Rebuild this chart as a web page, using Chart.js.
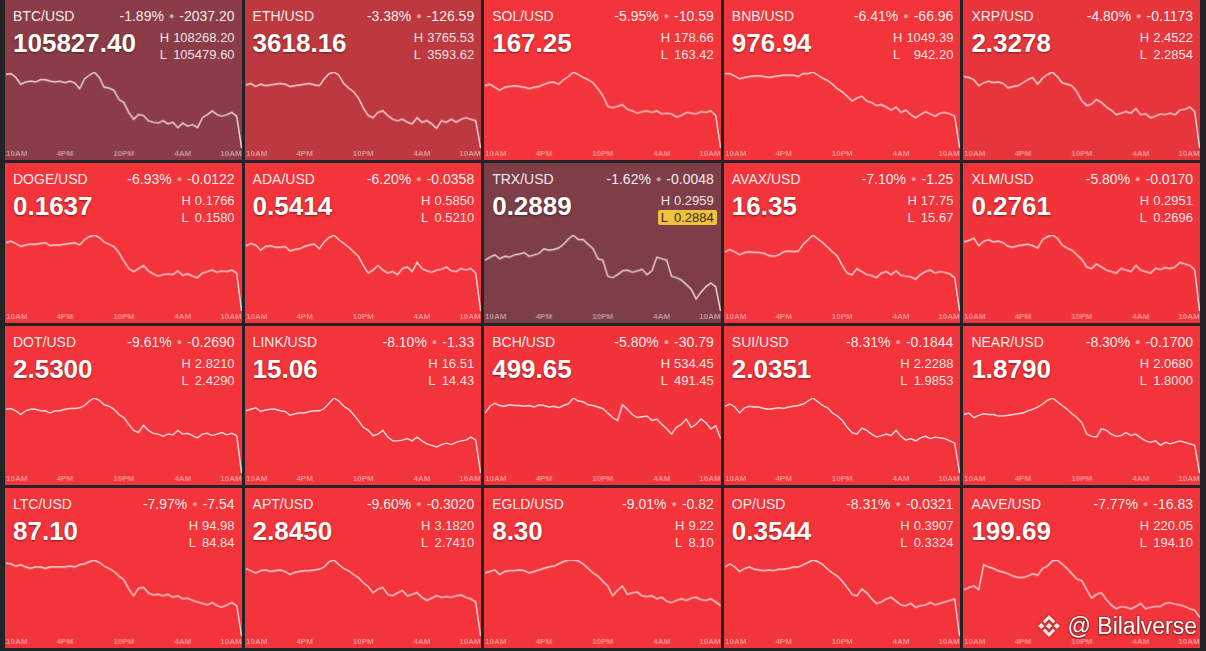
<!DOCTYPE html>
<html>
<head>
<meta charset="utf-8">
<script src="https://cdn.jsdelivr.net/npm/chart.js@4.4.1/dist/chart.umd.min.js"></script>
<style>
  html, body { margin: 0; padding: 0; }
  body {
    width: 1206px; height: 651px; overflow: hidden; position: relative;
    background: #222327;
    font-family: 'Liberation Sans', Arial, sans-serif;
  }
  #grid {
    position: absolute; left: 5px; top: 0; width: 1195px; height: 648px;
    display: grid; grid-template-columns: repeat(5, 1fr); grid-template-rows: repeat(4, 1fr);
    gap: 3px;
  }
  .tile { position: relative; overflow: hidden; color: #fff; }
  .sym { position: absolute; left: 8px; top: 7px; font-size: 14px; line-height: 18px; color: rgba(255,255,255,0.93); }
  .chg { position: absolute; right: 7px; top: 7px; font-size: 14px; line-height: 18px; color: rgba(255,255,255,0.93); white-space: nowrap; }
  .chg .dot { font-size: 9px; color: rgba(255,255,255,0.55); margin: 0 5px; vertical-align: 2px; }
  .price {
    position: absolute; left: 8px; top: 28px; font-size: 26px; line-height: 30px; font-weight: bold;
    text-shadow: 0 1px 2px rgba(0,0,0,0.45);
  }
  .hl {
    position: absolute; right: 7px; top: 29px; display: flex; flex-direction: column;
    font-size: 13px; line-height: 17px; color: rgba(255,255,255,0.88);
  }
  .hl .row { display: flex; justify-content: space-between; gap: 4px; }
  .hl .row.flag {
    background: #eec23c; color: #3b2b16; border-radius: 2px;
    margin: 1px -3px 0 -3px; padding: 0 3px; line-height: 15px;
  }
  .spark { position: absolute; left: 0; right: 0; top: 62px; bottom: 0; }
  #mark {
    position: absolute; right: 9px; top: 612px; display: flex; align-items: center; gap: 6px;
    color: #fff; font-size: 23px; line-height: 28px;
    text-shadow: 0 0 2px rgba(0,0,0,0.6), 0 1px 2px rgba(0,0,0,0.5);
  }
  #mark svg { filter: drop-shadow(0 0 1px rgba(0,0,0,0.5)); }
</style>
</head>
<body>
<div id="grid"></div>
<div id="mark">
  <svg width="26" height="26" viewBox="0 0 100 100">
    <g fill="rgba(255,255,255,0.92)">
      <polygon points="50,38 62,50 50,62 38,50"/>
      <polygon points="20,38 32,50 20,62 8,50"/>
      <polygon points="80,38 92,50 80,62 68,50"/>
      <polygon points="50,8 74,32 66,40 50,24 34,40 26,32"/>
      <polygon points="50,92 74,68 66,60 50,76 34,60 26,68"/>
    </g>
  </svg>
  <span>@ Bilalverse</span>
</div>
<script>
// quotes
const symbols = ['BTC/USD', 'ETH/USD', 'SOL/USD', 'BNB/USD', 'XRP/USD',
  'DOGE/USD', 'ADA/USD', 'TRX/USD', 'AVAX/USD', 'XLM/USD',
  'DOT/USD', 'LINK/USD', 'BCH/USD', 'SUI/USD', 'NEAR/USD',
  'LTC/USD', 'APT/USD', 'EGLD/USD', 'OP/USD', 'AAVE/USD'];
const prices = ['105827.40', '3618.16', '167.25', '976.94', '2.3278',
  '0.1637', '0.5414', '0.2889', '16.35', '0.2761',
  '2.5300', '15.06', '499.65', '2.0351', '1.8790',
  '87.10', '2.8450', '8.30', '0.3544', '199.69'];
const pctChanges = [-1.89, -3.38, -5.95, -6.41, -4.80,
  -6.93, -6.20, -1.62, -7.10, -5.80,
  -9.61, -8.10, -5.80, -8.31, -8.30,
  -7.97, -9.60, -9.01, -8.31, -7.77];
const absChanges = ['-2037.20', '-126.59', '-10.59', '-66.96', '-0.1173',
  '-0.0122', '-0.0358', '-0.0048', '-1.25', '-0.0170',
  '-0.2690', '-1.33', '-30.79', '-0.1844', '-0.1700',
  '-7.54', '-0.3020', '-0.82', '-0.0321', '-16.83'];
const highs = ['108268.20', '3765.53', '178.66', '1049.39', '2.4522',
  '0.1766', '0.5850', '0.2959', '17.75', '0.2951',
  '2.8210', '16.51', '534.45', '2.2288', '2.0680',
  '94.98', '3.1820', '9.22', '0.3907', '220.05'];
const lows = ['105479.60', '3593.62', '163.42', '942.20', '2.2854',
  '0.1580', '0.5210', '0.2884', '15.67', '0.2696',
  '2.4290', '14.43', '491.45', '1.9853', '1.8000',
  '84.84', '2.7410', '8.10', '0.3324', '194.10'];
const lowAlerts = ['TRX/USD'];

const tickLabels = ['10AM', '4PM', '10PM', '4AM', '10AM'];

// 24h sparklines, half-hour steps, level inside each plot (0 = lowest, 100 = highest)
const btcLine = [97,98,93,84,87,88,87,90,90,88,87,88,86,88,86,78,91,96,100,93,80,79,76,64,60,47,38,44,43,36,34,33,36,32,34,27,33,29,31,27,40,44,49,44,42,44,47,42,0];
const ethLine = [83,85,81,84,82,83,84,85,84,81,82,83,84,85,83,82,91,98,100,96,85,79,74,66,53,43,40,47,49,43,38,36,38,34,32,40,34,36,32,26,36,34,38,34,38,40,38,36,0];
const solLine = [82,84,80,76,80,81,82,81,80,78,80,81,84,86,87,84,90,94,100,97,93,90,86,78,69,55,53,55,57,51,49,46,48,49,47,49,45,46,45,41,43,47,46,45,48,47,49,43,0];
const bnbLine = [98,98,95,91,93,94,95,95,94,93,94,95,96,96,96,94,98,98,100,96,92,89,84,78,74,68,62,66,68,62,60,56,57,54,50,54,47,50,44,40,44,48,45,42,46,47,45,42,0];
const xrpLine = [94,93,90,82,86,88,86,87,85,79,81,82,86,90,93,84,92,97,100,94,86,84,82,74,62,56,58,64,60,54,50,44,46,48,46,52,44,45,40,42,45,44,46,44,50,51,54,48,0];
const dogeLine = [90,92,89,85,87,88,88,89,90,86,87,87,88,89,90,87,94,98,100,97,91,88,85,77,66,56,52,56,60,53,49,46,48,49,48,53,47,49,46,44,50,52,54,51,53,52,54,50,0];
const adaLine = [86,89,87,80,85,86,84,84,85,79,81,82,85,87,88,82,91,97,100,94,89,84,78,72,60,50,54,60,54,50,52,48,56,58,52,64,56,53,51,54,55,58,53,52,56,54,56,50,0];
const trxLine = [67,71,74,69,72,71,74,75,77,72,74,76,82,80,81,83,88,95,100,94,94,88,82,69,67,46,44,48,53,54,51,53,55,48,53,71,69,67,46,44,41,35,29,16,25,32,37,32,0];
const avaxLine = [78,81,78,74,77,78,77,77,76,73,72,74,78,79,78,79,88,94,100,95,90,84,78,72,60,50,48,56,52,48,47,44,50,52,48,53,47,46,45,42,48,52,54,50,52,51,49,44,0];
const xlmLine = [91,93,96,86,92,94,91,92,90,85,84,86,87,88,86,83,94,98,100,96,87,83,80,74,68,58,56,62,58,54,52,50,56,54,52,60,54,52,50,56,55,57,56,58,64,62,60,54,0];
const dotLine = [85,86,83,78,83,85,85,83,83,80,83,83,85,86,86,87,90,96,100,97,91,89,85,78,74,65,57,54,64,57,53,52,49,52,51,57,52,53,50,47,52,53,50,52,54,51,53,50,0];
const linkLine = [83,85,87,82,84,85,85,83,82,77,79,80,80,82,83,83,86,93,100,96,89,85,78,70,61,57,50,52,57,48,43,43,44,46,43,48,43,39,37,35,38,40,38,41,43,44,48,44,0];
const bchLine = [80,89,93,90,89,91,90,90,89,90,88,91,90,88,89,87,90,92,100,96,95,91,90,88,86,80,74,70,91,85,78,74,75,76,70,72,65,59,52,61,65,72,61,65,72,67,59,63,46];
const suiLine = [89,92,88,80,87,89,88,88,86,85,86,87,86,88,89,90,92,96,100,95,90,87,80,76,70,61,54,52,60,57,52,48,50,52,50,57,49,44,46,43,47,49,46,48,47,46,43,40,0];
const nearLine = [78,80,74,77,79,78,78,76,76,77,78,79,80,83,85,88,92,97,100,95,90,85,79,74,67,52,49,48,59,57,52,49,50,54,50,52,47,43,41,43,37,41,39,41,43,41,39,37,0];
const ltcLine = [96,95,92,94,91,89,91,91,89,91,91,91,91,92,91,94,95,98,100,97,92,89,85,79,74,62,53,63,64,57,54,55,53,55,51,53,49,50,47,45,43,41,44,40,38,41,44,40,0];
const aptLine = [89,86,83,86,87,85,86,87,85,81,84,85,86,86,87,88,91,98,100,94,89,86,81,77,70,65,57,62,64,55,53,57,60,53,55,57,51,47,50,53,51,52,51,53,54,51,49,45,0];
const egldLine = [83,85,87,81,85,86,86,87,86,83,85,87,89,91,92,95,98,100,100,99,95,89,83,79,72,66,53,60,66,55,57,58,53,52,53,49,51,46,44,47,49,47,50,51,48,47,49,45,40];
const opLine = [91,95,91,85,89,91,88,87,86,87,86,88,88,89,91,91,94,97,100,98,94,88,83,79,72,64,55,53,62,57,49,43,45,49,51,46,41,40,43,38,40,41,44,41,43,45,47,49,0];
const aaveLine = [61,64,66,61,94,91,89,86,84,82,79,77,77,79,82,80,89,92,99,100,95,89,82,75,73,61,50,55,57,48,41,36,39,38,36,39,43,36,38,39,39,43,44,42,41,39,36,34,25];

const lines = [btcLine, ethLine, solLine, bnbLine, xrpLine,
  dogeLine, adaLine, trxLine, avaxLine, xlmLine,
  dotLine, linkLine, bchLine, suiLine, nearLine,
  ltcLine, aptLine, egldLine, opLine, aaveLine];

// tile shade goes from muted maroon (small loss) to full red (big loss)
const shadeStops = [
  [1.6, [125, 62, 72]],
  [1.9, [139, 60, 70]],
  [3.4, [190, 56, 63]],
  [4.8, [230, 53, 59]],
  [5.9, [243, 52, 58]]
];

function tileColor(pct) {
  const a = Math.abs(pct);
  if (a <= shadeStops[0][0]) return `rgb(${shadeStops[0][1].join(',')})`;
  for (let i = 1; i < shadeStops.length; i++) {
    const [a1, c1] = shadeStops[i];
    const [a0, c0] = shadeStops[i - 1];
    if (a <= a1) {
      const t = (a - a0) / (a1 - a0);
      const c = c0.map((v, k) => Math.round(v + (c1[k] - v) * t));
      return `rgb(${c.join(',')})`;
    }
  }
  return `rgb(${shadeStops[shadeStops.length - 1][1].join(',')})`;
}

const fontFamily = "'Liberation Sans', Arial, sans-serif";

function buildTile(i) {
  const tile = document.createElement('div');
  tile.className = 'tile';
  tile.style.background = tileColor(pctChanges[i]);
  const flag = lowAlerts.includes(symbols[i]) ? ' flag' : '';
  tile.innerHTML = `
    <div class="sym">${symbols[i]}</div>
    <div class="chg">${pctChanges[i].toFixed(2)}%<span class="dot">●</span>${absChanges[i]}</div>
    <div class="price">${prices[i]}</div>
    <div class="hl">
      <div class="row"><span>H</span><span>${highs[i]}</span></div>
      <div class="row${flag}"><span>L</span><span>${lows[i]}</span></div>
    </div>
    <div class="spark"><canvas></canvas></div>`;
  return tile;
}

function sparkline(canvas, values) {
  const slots = values.map((_, k) => k);
  return new Chart(canvas, {
    type: 'line',
    data: {
      labels: slots,
      datasets: [{
        data: values,
        borderColor: 'rgba(255,236,236,0.9)',
        borderWidth: 1.4,
        pointRadius: 0,
        tension: 0,
        fill: false
      }]
    },
    options: {
      responsive: true,
      maintainAspectRatio: false,
      animation: false,
      events: [],
      layout: { padding: { top: 10, bottom: 1, left: 0, right: 0 } },
      plugins: { legend: { display: false }, tooltip: { enabled: false } },
      scales: {
        x: {
          grid: { display: false, drawTicks: false },
          border: { display: false },
          afterBuildTicks: axis => { axis.ticks = axis.ticks.filter(t => t.value % 12 === 0); },
          ticks: {
            autoSkip: false,
            maxRotation: 0,
            align: 'inner',
            padding: 1,
            color: 'rgba(255,255,255,0.45)',
            font: { family: fontFamily, size: 8, weight: 'bold' },
            callback: v => tickLabels[v / 12]
          }
        },
        y: { display: false, min: 0, max: 100 }
      }
    }
  });
}

const grid = document.getElementById('grid');
symbols.forEach((_, i) => {
  const tile = buildTile(i);
  grid.appendChild(tile);
  sparkline(tile.querySelector('canvas'), lines[i]);
});
</script>
</body>
</html>
